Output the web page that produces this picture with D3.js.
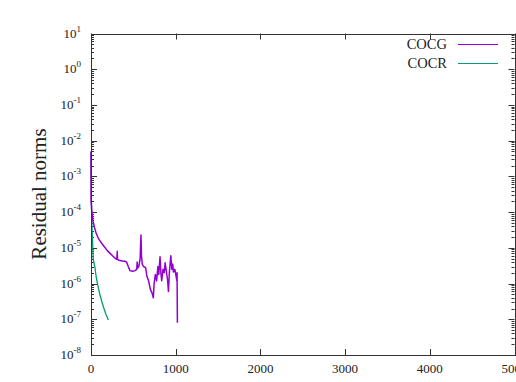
<!DOCTYPE html>
<html>
<head>
<meta charset="utf-8">
<script src="https://cdn.jsdelivr.net/npm/d3@7/dist/d3.min.js"></script>
<style>
  body { margin: 0; background: #fff; }
  svg { display: block; }
</style>
</head>
<body>
<div id="container"></div>
<script>
// iteration counts and residual norms
const cocgIter = [0, 1, 3, 8, 15, 25, 40, 60, 80, 100, 130, 160, 190, 225, 260, 290, 305, 310, 313, 340, 370, 400, 420, 440, 460, 490, 520, 540, 545, 550, 565, 580, 590, 596, 605, 620, 645, 660, 680, 700, 720, 736, 745, 760, 775, 790, 800, 815, 825, 835, 850, 865, 875, 890, 905, 914, 925, 942, 955, 965, 973, 990, 1005, 1013, 1016, 1020];
const cocgRes = [5e-3, 2e-4, 1.8e-4, 1.2e-4, 8e-5, 5.5e-5, 3.8e-5, 2.6e-5, 2e-5, 1.65e-5, 1.3e-5, 1.05e-5, 8.5e-6, 7e-6, 5.8e-6, 5e-6, 4.8e-6, 8e-6, 4.7e-6, 4.4e-6, 4.3e-6, 4.2e-6, 4.0e-6, 3e-6, 2.3e-6, 2.2e-6, 2.3e-6, 2.5e-6, 4e-6, 2.7e-6, 3e-6, 5e-6, 2.3e-5, 6e-6, 3.5e-6, 3e-6, 2.8e-6, 1.6e-6, 1.2e-6, 7e-7, 5.5e-7, 4e-7, 1e-6, 1.8e-6, 1.2e-6, 3e-6, 1.8e-6, 5.6e-6, 2e-6, 1.2e-6, 2.5e-6, 2e-6, 3.8e-6, 2.2e-6, 1.2e-6, 6e-7, 2e-6, 6e-6, 2.5e-6, 3.5e-6, 2.1e-6, 2.5e-6, 1.6e-6, 1.2e-6, 2e-6, 8e-8];

const cocrIter = [0, 2, 5, 10, 20, 27, 45, 60, 80, 100, 125, 150, 175, 205];
const cocrRes = [5e-3, 1e-3, 2e-4, 5e-5, 1.2e-5, 4.6e-6, 3e-6, 1.6e-6, 9e-7, 5.5e-7, 3.3e-7, 2.1e-7, 1.4e-7, 9.5e-8];

const seriesNames = ['COCG', 'COCR'];
const seriesColors = ['#9400d3', '#009e73'];
const xTicks = [0, 1000, 2000, 3000, 4000, 5000];
const yExps = [1, 0, -1, -2, -3, -4, -5, -6, -7, -8];

const width = 516, height = 382;
const margin = { top: 33.5, right: 1.5, bottom: 27, left: 91 };
const serif = '"Liberation Serif", "Times New Roman", "DejaVu Serif", serif';

const svg = d3.select('#container').append('svg').attr('width', width).attr('height', height)
  .attr('font-family', serif);

const x = d3.scaleLinear().domain([0, 5000]).range([margin.left, width - margin.right]);
const y = d3.scaleLog().domain([1e-8, 10]).range([height - margin.bottom, margin.top]);

const x0 = x.range()[0], x1 = x.range()[1], y0 = y.range()[0], y1 = y.range()[1];
const axisColor = '#333';

// minor log ticks, both sides, inward
const minor = [];
yExps.slice(1).forEach(e => { for (let m = 2; m <= 9; m++) minor.push(m * Math.pow(10, e)); });
const tk = svg.append('g').attr('stroke', axisColor).attr('stroke-width', 1);
minor.forEach(v => {
  const yy = Math.round(y(v)) + 0.5;
  tk.append('line').attr('x1', x0).attr('x2', x0 + 3).attr('y1', yy).attr('y2', yy);
  tk.append('line').attr('x1', x1).attr('x2', x1 - 3).attr('y1', yy).attr('y2', yy);
});
yExps.forEach(e => {
  const yy = Math.round(y(Math.pow(10, e))) + 0.5;
  tk.append('line').attr('x1', x0).attr('x2', x0 + 6).attr('y1', yy).attr('y2', yy);
  tk.append('line').attr('x1', x1).attr('x2', x1 - 6).attr('y1', yy).attr('y2', yy);
});
xTicks.forEach(t => {
  const xx = Math.round(x(t)) + 0.5;
  tk.append('line').attr('x1', xx).attr('x2', xx).attr('y1', y0).attr('y2', y0 - 6);
  tk.append('line').attr('x1', xx).attr('x2', xx).attr('y1', y1).attr('y2', y1 + 6);
});

// y tick labels 10^k
const yl = svg.append('g').attr('fill', '#222');
yExps.forEach(e => {
  const t = yl.append('text').attr('x', 81).attr('y', y(Math.pow(10, e)) + 4)
    .attr('text-anchor', 'end').attr('font-size', 13);
  t.append('tspan').text('10');
  t.append('tspan').attr('font-size', 9).attr('dy', -6).text(e);
});

// x tick labels
xTicks.forEach(t => {
  svg.append('text').attr('x', x(t)).attr('y', 373).attr('text-anchor', 'middle')
    .attr('fill', '#222').attr('font-size', 13).text(t);
});

// axis title
svg.append('text').attr('transform', `translate(46,194) rotate(-90)`)
  .attr('text-anchor', 'middle').attr('fill', '#222').attr('font-size', 21).text('Residual norms');

// curves
const line = d3.line().x(d => x(d[0])).y(d => y(d[1]));
const plot = svg.append('g');
[[cocrIter, cocrRes, 1], [cocgIter, cocgRes, 0]].forEach(([it, rs, idx]) => {
  plot.append('path').datum(it.map((v, j) => [v, rs[j]]))
    .attr('fill', 'none').attr('stroke', seriesColors[idx]).attr('stroke-width', idx === 0 ? 1.5 : 1.3)
    .attr('stroke-linejoin', 'round').attr('d', line);
});

// border
svg.append('rect').attr('x', Math.round(x0) + 0.5).attr('y', Math.round(y1) + 0.5)
  .attr('width', Math.round(x1) - Math.round(x0)).attr('height', Math.round(y0) - Math.round(y1))
  .attr('fill', 'none').attr('stroke', axisColor).attr('stroke-width', 1);

// legend
const lg = svg.append('g');
seriesNames.forEach((n, i) => {
  const ly = 49 + i * 19;
  lg.append('text').attr('x', 447).attr('y', ly).attr('text-anchor', 'end')
    .attr('fill', '#222').attr('font-size', 14.5).text(n);
  lg.append('line').attr('x1', 458).attr('x2', 498).attr('y1', ly - 4.5).attr('y2', ly - 4.5)
    .attr('stroke', seriesColors[i]).attr('stroke-width', 1.2);
});
</script>
</body>
</html>
